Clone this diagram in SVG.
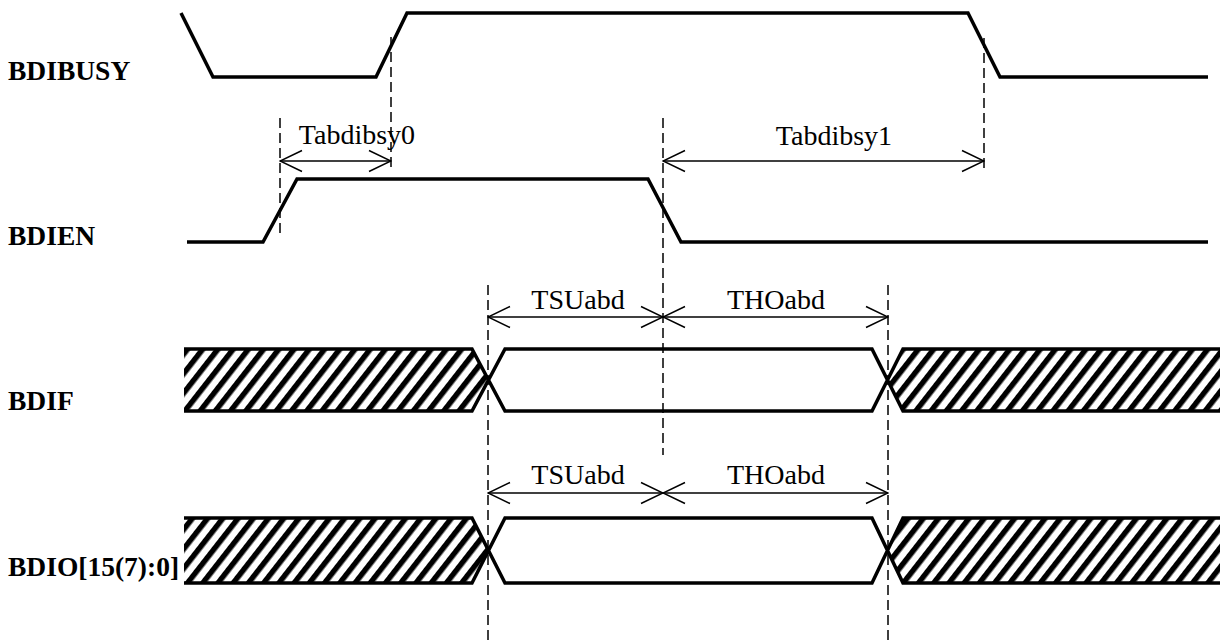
<svg xmlns="http://www.w3.org/2000/svg" width="1220" height="642" viewBox="0 0 1220 642">
<style>
.sig{fill:none;stroke:#000;stroke-width:3.5;stroke-linejoin:miter}
.dash{fill:none;stroke:#000;stroke-width:1.5;stroke-dasharray:10 5}
.dim{fill:none;stroke:#000;stroke-width:1.5}
.lbl{font-family:"Liberation Serif","Times New Roman",serif;font-weight:bold;font-size:27.5px;fill:#000}
.txt{font-family:"Liberation Serif","Times New Roman",serif;font-size:28px;fill:#000;text-anchor:middle}
</style>
<defs>
<pattern id="hatch" patternUnits="userSpaceOnUse" width="12" height="12" patternTransform="rotate(38)">
<rect x="0" y="0" width="5.5" height="12" fill="#000"/>
</pattern>
<marker id="ah" viewBox="0 0 24 24" refX="23" refY="12" markerWidth="24" markerHeight="24" markerUnits="userSpaceOnUse" orient="auto-start-reverse">
<path d="M1 1.5 L23 12 L1 22.5" fill="none" stroke="#000" stroke-width="1.5"/>
</marker>
</defs>
<g id="labels">
<text class="lbl" x="8" y="80">BDIBUSY</text>
<text class="lbl" x="8" y="245">BDIEN</text>
<text class="lbl" x="8" y="410">BDIF</text>
<text class="lbl" x="8" y="576">BDIO[15(7):0]</text>
</g>
<g id="BDIBUSY">
<polyline class="sig" points="181,13 213,77 376,77 407,13 968,13 1000,77 1208,77"/>
</g>
<g id="BDIEN">
<polyline class="sig" points="187,242 263,242 297,179 648,179 681,242 1208,242"/>
</g>
<g id="BDIF">
<polygon points="184,349 472,349 488,380 472,411 184,411" fill="url(#hatch)"/>
<polygon points="903,349 1220,349 1220,411 903,411 888,380" fill="url(#hatch)"/>
<path class="sig" d="M184 349 H472 L505 411 H872 L903 349 H1220 M184 411 H472 L505 349 H872 L903 411 H1220"/>
</g>
<g id="BDIO">
<polygon points="184,518 472,518 488,550 472,583 184,583" fill="url(#hatch)"/>
<polygon points="903,518 1220,518 1220,583 903,583 888,550" fill="url(#hatch)"/>
<path class="sig" d="M184 518 H472 L505 583 H872 L903 518 H1220 M184 583 H472 L505 518 H872 L903 583 H1220"/>
</g>
<g id="connectors">
<line class="dash" x1="280" y1="118" x2="280" y2="233"/>
<line class="dash" x1="391" y1="37" x2="391" y2="168"/>
<line class="dash" x1="663" y1="118" x2="663" y2="455"/>
<line class="dash" x1="984" y1="38" x2="984" y2="168"/>
<line class="dash" x1="488" y1="285" x2="488" y2="642"/>
<line class="dash" x1="888" y1="285" x2="888" y2="642"/>
<line class="dim" x1="280" y1="161" x2="391" y2="161" marker-start="url(#ah)" marker-end="url(#ah)"/>
<line class="dim" x1="663" y1="161" x2="984" y2="161" marker-start="url(#ah)" marker-end="url(#ah)"/>
<line class="dim" x1="488" y1="317" x2="663" y2="317" marker-start="url(#ah)" marker-end="url(#ah)"/>
<line class="dim" x1="663" y1="317" x2="888" y2="317" marker-start="url(#ah)" marker-end="url(#ah)"/>
<line class="dim" x1="488" y1="493" x2="663" y2="493" marker-start="url(#ah)" marker-end="url(#ah)"/>
<line class="dim" x1="663" y1="493" x2="888" y2="493" marker-start="url(#ah)" marker-end="url(#ah)"/>
</g>
<g id="dim-labels">
<text class="txt" x="357" y="144">Tabdibsy0</text>
<text class="txt" x="834" y="145">Tabdibsy1</text>
<text class="txt" x="578" y="309">TSUabd</text>
<text class="txt" x="776" y="309">THOabd</text>
<text class="txt" x="578" y="484">TSUabd</text>
<text class="txt" x="776" y="484">THOabd</text>
</g>
</svg>
